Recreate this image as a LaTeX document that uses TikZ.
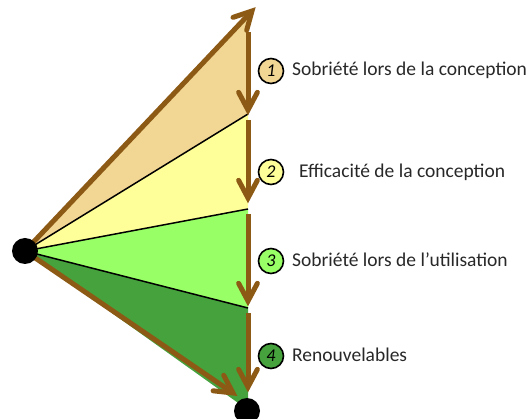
\documentclass[tikz,border=0pt]{standalone}
\usepackage{fontspec}
\setmainfont{Carlito}
\usetikzlibrary{calc}
\definecolor{brn}{RGB}{140,90,20}
\definecolor{c1}{RGB}{242,214,148}
\definecolor{c2}{RGB}{255,255,153}
\definecolor{c3}{RGB}{153,255,102}
\definecolor{c4}{RGB}{70,162,60}
\definecolor{txt}{RGB}{40,40,40}
\tikzset{
  shaft/.style={draw=brn, line width=5pt, line cap=butt},
  vhead/.style={draw=brn, line width=5pt, line cap=round, line join=miter},
  divline/.style={draw=black, line width=1.5pt},
  dot/.style={circle, fill=black, inner sep=0pt, minimum size=26pt},
  num/.style={circle, draw=black, line width=1.6pt, inner sep=0pt, minimum size=25pt, font=\fontsize{18}{18}\selectfont\itshape},
  lbl/.style={anchor=west, inner sep=0pt, font=\fontsize{19.5}{22}\selectfont, text=txt}
}
\newcommand\myarrow[2]{%
  \draw[shaft] (#1) -- (#2);
  \draw[vhead] ($(#2)!20pt!28:(#1)$) -- (#2) -- ($(#2)!20pt!-28:(#1)$);}
\begin{document}
\begin{tikzpicture}[x=1pt,y=-1pt]
\useasboundingbox (0,0) rectangle (528,419);
\coordinate (O) at (25,251);
\coordinate (T) at (248,16);
\coordinate (Tip) at (252,11);
\coordinate (V1) at (248,114);
\coordinate (V2) at (248,209);
\coordinate (V3) at (248,308);
\coordinate (V4) at (248,410);
\coordinate (S1) at (248,32);
\coordinate (E1) at (248,110);
\coordinate (S2) at (248,120);
\coordinate (E2) at (248,198);
\coordinate (S3) at (248,214);
\coordinate (E3) at (248,301);
\coordinate (S4) at (248,313);
\coordinate (E4) at (248,387);
\coordinate (BT) at (233,393);
% fills
\fill[c1] (O) -- (T) -- (V1) -- cycle;
\fill[c2] (O) -- (V1) -- (V2) -- cycle;
\fill[c3] (O) -- (V2) -- (V3) -- cycle;
\fill[c4] (O) -- (V3) -- (V4) -- cycle;
% dividers
\draw[divline] (O) -- (V1);
\draw[divline] (O) -- (V2);
\draw[divline] (O) -- (V3);
% arrows
\myarrow{O}{Tip}
\myarrow{O}{BT}
\myarrow{S1}{E1}
\myarrow{S2}{E2}
\myarrow{S3}{E3}
\myarrow{S4}{E4}
% dots
\node[dot] (L) at (O) {};
\node[dot] (B) at (247,411) {};
% labels
\node[num, fill=c1] (n1) at (271,71) {1};
\node[num, fill=c2] (n2) at (271,172) {2};
\node[num, fill=c3] (n3) at (271,261) {3};
\node[num, fill=c4] (n4) at (271,356) {4};
\node[lbl] (t1) at (292,70) {Sobriété lors de la conception};
\node[lbl] (t2) at (299,172) {Efficacité de la conception};
\node[lbl] (t3) at (292,260) {Sobriété lors de l’utilisation};
\node[lbl] (t4) at (292,355) {Renouvelables};
\end{tikzpicture}
\end{document}
